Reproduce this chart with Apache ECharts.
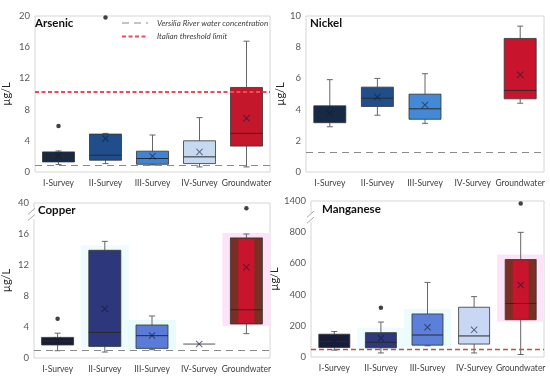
<!DOCTYPE html>
<html>
<head>
<meta charset="utf-8">
<script src="https://cdn.jsdelivr.net/npm/echarts@6/dist/echarts.min.js"></script>
<style>
html,body{margin:0;padding:0;background:#fff;}
#c{width:550px;height:380px;}
</style>
</head>
<body>
<div id="c"></div>
<script>
// ---------- DATA ----------
const categories = ['I-Survey', 'II-Survey', 'III-Survey', 'IV-Survey', 'Groundwater'];
const legendNames = ['Versilia River water concentration', 'Italian threshold limit'];

// box statistics: [min, Q1, median, Q3, max]  (null = no data)
const arsenicBox = [
  [0.95, 1.29, 2.0, 2.58, 2.7],
  [1.08, 1.51, 2.15, 4.86, 4.95],
  [0.9, 0.99, 1.73, 2.67, 4.74],
  [0.65, 1.08, 1.94, 4.0, 6.97],
  [0.65, 3.32, 4.95, 10.84, 16.77]
];
const arsenicMean = [2.1, 4.3, 2.03, 2.58, 6.89];
const arsenicOutliers = [[0, 5.9], [1, 19.8]];
const arsenicRiver = 0.86;
const arsenicThreshold = 10.3;

const nickelBox = [
  [2.9, 3.16, 3.7, 4.24, 5.92],
  [3.64, 4.2, 4.73, 5.44, 6.0],
  [3.12, 3.38, 4.05, 4.99, 6.3],
  null,
  [4.41, 4.69, 5.23, 8.56, 9.35]
];
const nickelMean = [3.75, 4.8, 4.3, null, 6.24];
const nickelOutliers = [];
const nickelRiver = 1.29;

const copperBox = [
  [0.94, 1.68, 2.2, 2.66, 3.2],
  [0.77, 1.5, 3.3, 13.9, 15.05],
  [1.07, 1.24, 2.88, 4.26, 5.42],
  [1.8, 1.8, 1.8, 1.8, 1.8],
  [3.14, 4.39, 6.23, 15.5, 16.0]
];
const copperMean = [2.3, 6.36, 2.9, 1.8, 11.7];
const copperOutliers = [[0, 5.07], [4, 36]];
const copperRiver = 0.98;
const copperTicks = [0, 4, 8, 12, 16, 40];

const manganeseBox = [
  [44, 61, 100, 146, 163],
  [26, 59, 94, 156, 224],
  [72, 76, 141, 276, 478],
  [26, 83, 135, 319, 387],
  [16, 239, 343, 625, 799]
];
const manganeseMean = [105, 120, 191, 174, 462];
const manganeseOutliers = [[1, 315], [4, 1350]];
const manganeseLimit = 50;
const manganeseTicks = [0, 200, 400, 600, 800, 1400];

// ---------- STYLE ----------
const FONT = 'Lato, "Liberation Sans", sans-serif';
const panels = [
  { title: 'Arsenic', box: arsenicBox, mean: arsenicMean, out: arsenicOutliers,
    grid: { left: 32, top: 16, width: 238, height: 156 }, max: 20, interval: 4, breakAt: null,
    colors: ['#15294a', '#1f4e8b', '#3f84d4', '#c6d9f1', '#c4172c'],
    inner: [null, null, null, null, null], halo: [null, null, null, null, null],
    boxW: 32, titlePos: [35, 17], nameGap: 23 },
  { title: 'Nickel', box: nickelBox, mean: nickelMean, out: nickelOutliers,
    grid: { left: 306, top: 16, width: 238, height: 156 }, max: 10, interval: 2, breakAt: null,
    colors: ['#15294a', '#1f4e8b', '#4389d6', '#c6d9f1', '#c8142c'],
    inner: [null, null, null, null, null], halo: [null, null, null, null, null],
    boxW: 32, titlePos: [310, 17], nameGap: 20 },
  { title: 'Copper', box: copperBox, mean: copperMean, out: copperOutliers,
    grid: { left: 32, top: 203, width: 238, height: 155 }, max: 20, interval: 4,
    breakAt: { lo: 16, hi: 40, disp: 20 }, ticks: copperTicks,
    colors: ['#171c3b', '#2c377c', '#5b7bd9', '#6b6b6b', '#7a2e24'],
    inner: [null, null, null, null, '#c8142c'],
    halo: [null, '#effcfd', '#eafbfb', null, '#fde3f7'],
    boxW: 32, titlePos: [38, 204], nameGap: 22 },
  { title: 'Manganese', box: manganeseBox, mean: manganeseMean, out: manganeseOutliers,
    grid: { left: 311, top: 201, width: 233, height: 156 }, max: 1000, interval: 200,
    breakAt: { lo: 800, hi: 1400, disp: 1000 }, ticks: manganeseTicks,
    colors: ['#171c3b', '#2d397c', '#5c80d9', '#c8d7f3', '#7a2e24'],
    inner: [null, null, null, null, '#c8142c'],
    halo: [null, '#effcfd', '#ecfbfb', null, '#fde3f7'],
    boxW: 31, titlePos: [322, 203], nameGap: 26 }
];

function disp(p, v) {
  const b = p.breakAt;
  if (!b || v <= b.lo) return v;
  return b.lo + (v - b.lo) * (b.disp - b.lo) / (b.hi - b.lo);
}

const xPath = 'path://M1,0L5,4L9,0L10,1L6,5L10,9L9,10L5,6L1,10L0,9L4,5L0,1Z';

function makeRender(p) {
  return function (params, api) {
    const ci = api.value(0);
    const mn = api.value(1), q1 = api.value(2), md = api.value(3), q3 = api.value(4), mx = api.value(5);
    const cx = api.coord([ci, 0])[0];
    const Y = v => api.coord([ci, v])[1];
    const w = p.boxW;
    const ch = [];
    if (p.halo[ci]) {
      ch.push({ type: 'rect', shape: { x: cx - w / 2 - 8, y: Y(q3) - 5, width: w + 16, height: Y(q1) - Y(q3) + 7 },
        style: { fill: p.halo[ci] }, z2: 0 });
    }
    const wc = '#666';
    ch.push({ type: 'line', shape: { x1: cx, y1: Y(q3), x2: cx, y2: Y(mx) }, style: { stroke: wc, lineWidth: 1 }, z2: 1 });
    ch.push({ type: 'line', shape: { x1: cx, y1: Y(q1), x2: cx, y2: Y(mn) }, style: { stroke: wc, lineWidth: 1 }, z2: 1 });
    if (mx > q3) ch.push({ type: 'line', shape: { x1: cx - 3, y1: Y(mx), x2: cx + 3, y2: Y(mx) }, style: { stroke: wc, lineWidth: 1 }, z2: 1 });
    if (mn < q1) ch.push({ type: 'line', shape: { x1: cx - 3, y1: Y(mn), x2: cx + 3, y2: Y(mn) }, style: { stroke: wc, lineWidth: 1 }, z2: 1 });
    const h = Y(q1) - Y(q3);
    if (h > 0.5) {
      ch.push({ type: 'rect', shape: { x: cx - w / 2, y: Y(q3), width: w, height: h },
        style: { fill: p.colors[ci], stroke: '#333', lineWidth: 0.8 }, z2: 2 });
      if (p.inner[ci]) {
        const iw = 16;
        ch.push({ type: 'rect', shape: { x: cx - iw / 2, y: Y(q3) + 1, width: iw, height: h - 2 },
          style: { fill: p.inner[ci] }, z2: 3 });
      }
      ch.push({ type: 'line', shape: { x1: cx - w / 2, y1: Y(md), x2: cx + w / 2, y2: Y(md) },
        style: { stroke: '#2a2a2a', lineWidth: 1 }, z2: 4 });
    } else {
      ch.push({ type: 'line', shape: { x1: cx - w / 2, y1: Y(md), x2: cx + w / 2, y2: Y(md) },
        style: { stroke: '#555', lineWidth: 1 }, z2: 4 });
    }
    return { type: 'group', children: ch };
  };
}

const grids = [], xAxes = [], yAxes = [], series = [], titles = [];
panels.forEach((p, i) => {
  grids.push(Object.assign({ show: true, borderColor: '#d6d6d6', borderWidth: 1, backgroundColor: 'transparent' }, p.grid));
  xAxes.push({ type: 'category', gridIndex: i, data: categories, boundaryGap: true,
    axisLine: { show: false }, axisTick: { show: false },
    axisLabel: { color: '#404040', fontSize: 8.5, fontFamily: FONT, margin: 7, interval: 0 } });
  yAxes.push({ type: 'value', gridIndex: i, min: 0, max: p.max, interval: p.interval,
    name: 'µg/L', nameLocation: 'middle', nameGap: p.nameGap, nameRotate: 90,
    nameTextStyle: { color: '#262626', fontSize: 11, fontFamily: FONT },
    axisLine: { show: false }, axisTick: { show: false }, splitLine: { show: false },
    axisLabel: { color: '#595959', fontSize: 9.5, fontFamily: FONT, margin: 5,
      formatter: v => (p.breakAt && v === p.breakAt.disp) ? String(p.breakAt.hi) : String(v) } });
  titles.push({ text: p.title, left: p.titlePos[0], top: p.titlePos[1], padding: 0,
    textStyle: { fontSize: 11.5, fontWeight: 'bold', color: '#111', fontFamily: FONT } });
  const boxData = [];
  p.box.forEach((b, ci) => { if (b) boxData.push([ci].concat(b.map(v => disp(p, v)))); });
  series.push({ type: 'custom', xAxisIndex: i, yAxisIndex: i, renderItem: makeRender(p), data: boxData,
    encode: { x: 0, y: [1, 2, 3, 4, 5] }, silent: true, z: 2 });
  const meanData = [];
  p.mean.forEach((m, ci) => { if (m != null) meanData.push([ci, disp(p, m)]); });
  series.push({ type: 'scatter', xAxisIndex: i, yAxisIndex: i, data: meanData, symbol: xPath, symbolSize: 7,
    itemStyle: { color: 'rgba(20,28,55,0.8)' }, silent: true, z: 5 });
  series.push({ type: 'scatter', xAxisIndex: i, yAxisIndex: i, data: p.out.map(o => [o[0], disp(p, o[1])]),
    symbol: 'circle', symbolSize: 4.5, itemStyle: { color: '#111' }, silent: true, z: 5 });
});

const riverStyle = { color: '#8a8a8a', width: 1.2, type: [7, 5] };
const thrStyle = { color: '#f04a5a', width: 2, type: [4, 2.5] };
function refLine(name, idx, value, style) {
  return { type: 'line', name: name, xAxisIndex: idx, yAxisIndex: idx, data: [], symbol: 'none',
    itemStyle: { color: style.color }, lineStyle: style, silent: true, z: 4,
    markLine: { silent: true, symbol: 'none', label: { show: false }, animation: false,
      lineStyle: style, data: [{ yAxis: value }] } };
}
series.push(refLine(legendNames[0], 0, arsenicRiver, riverStyle));
series.push(refLine(legendNames[1], 0, arsenicThreshold, thrStyle));
series.push(refLine('riverNi', 1, nickelRiver, riverStyle));
series.push(refLine('riverCu', 2, copperRiver, riverStyle));
series.push(refLine('limitMn', 3, manganeseLimit, { color: '#b9553f', width: 1.3, type: [5, 3] }));

const chart = echarts.init(document.getElementById('c'), null, { renderer: 'canvas' });
chart.setOption({
  animation: false,
  backgroundColor: '#fff',
  textStyle: { fontFamily: FONT },
  title: titles,
  grid: grids, xAxis: xAxes, yAxis: yAxes, series: series
});

// legend (line samples + real text) and axis break marks
const g = [];
[[riverStyle, 23, legendNames[0]], [thrStyle, 36.5, legendNames[1]]].forEach(([st, y, name]) => {
  g.push({ type: 'line', shape: { x1: 122, y1: y, x2: 148, y2: y },
    style: { stroke: st.color, lineWidth: st.width, lineDash: st.type }, z: 50 });
  g.push({ type: 'text', x: 157, y: y, z: 50,
    style: { text: name, fill: '#404040', font: 'italic 8px ' + FONT, textVerticalAlign: 'middle', verticalAlign: 'middle' } });
});
[[2, 18.4], [3, 890]].forEach(([gi, v]) => {
  const y = chart.convertToPixel({ gridIndex: gi }, [0, v])[1];
  const x = panels[gi].grid.left;
  g.push({ type: 'rect', shape: { x: x - 4, y: y - 5, width: 8, height: 9 }, style: { fill: '#fff' }, z: 100 });
  g.push({ type: 'line', shape: { x1: x - 4, y1: y - 1, x2: x + 3, y2: y - 7 }, style: { stroke: '#aaa', lineWidth: 1 }, z: 101 });
  g.push({ type: 'line', shape: { x1: x - 4, y1: y + 5, x2: x + 3, y2: y - 1 }, style: { stroke: '#aaa', lineWidth: 1 }, z: 101 });
});
chart.setOption({ graphic: g });
</script>
</body>
</html>
